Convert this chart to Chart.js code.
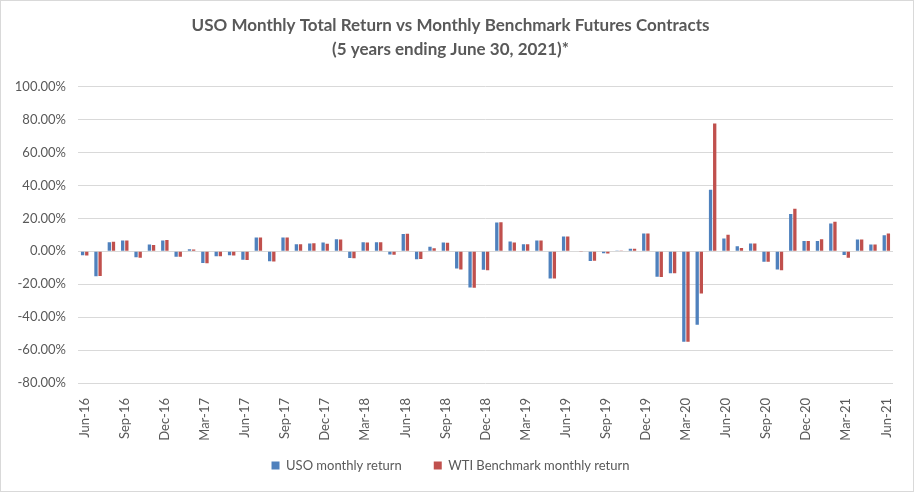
<!DOCTYPE html>
<html>
<head>
<meta charset="utf-8">
<script src="https://cdn.jsdelivr.net/npm/chart.js@4.4.0/dist/chart.umd.min.js"></script>
<style>
  html, body { margin: 0; padding: 0; background: #fff; }
  #wrap { width: 914px; height: 492px; position: relative; }
</style>
</head>
<body>
<div id="wrap"><canvas id="chart" width="914" height="492"></canvas></div>
<script>
// ── Data (monthly returns, %) ─────────────────────────────────────────

const months = [
    'Jun-16', 'Jul-16', 'Aug-16', 'Sep-16', 'Oct-16', 'Nov-16', 'Dec-16', 'Jan-17', 'Feb-17', 'Mar-17',
    'Apr-17', 'May-17', 'Jun-17', 'Jul-17', 'Aug-17', 'Sep-17', 'Oct-17', 'Nov-17', 'Dec-17', 'Jan-18',
    'Feb-18', 'Mar-18', 'Apr-18', 'May-18', 'Jun-18', 'Jul-18', 'Aug-18', 'Sep-18', 'Oct-18', 'Nov-18',
    'Dec-18', 'Jan-19', 'Feb-19', 'Mar-19', 'Apr-19', 'May-19', 'Jun-19', 'Jul-19', 'Aug-19', 'Sep-19',
    'Oct-19', 'Nov-19', 'Dec-19', 'Jan-20', 'Feb-20', 'Mar-20', 'Apr-20', 'May-20', 'Jun-20', 'Jul-20',
    'Aug-20', 'Sep-20', 'Oct-20', 'Nov-20', 'Dec-20', 'Jan-21', 'Feb-21', 'Mar-21', 'Apr-21', 'May-21',
    'Jun-21',
];

const usoReturn = [
    -2.4, -15.2, 5.5, 6.5, -3.7, 4.1, 6.5, -3.3, 1.2, -7.1,
    -3.0, -2.4, -5.1, 8.3, -6.1, 8.3, 4.3, 4.7, 5.3, 7.3,
    -4.1, 5.5, 5.5, -1.9, 10.5, -4.8, 2.8, 5.3, -10.4, -22.0,
    -11.2, 17.5, 5.9, 4.3, 6.5, -16.5, 8.9, -0.3, -5.9, -1.2,
    0.2, 1.5, 10.8, -15.4, -13.4, -54.9, -44.7, 37.4, 7.7, 3.0,
    4.7, -6.3, -11.0, 22.6, 6.3, 6.3, 16.9, -2.2, 7.1, 4.1,
    9.8,
];

const wtiReturn = [
    -2.6, -15.0, 5.8, 6.6, -3.9, 3.8, 6.8, -3.4, 1.1, -7.3,
    -3.0, -2.6, -5.3, 8.4, -6.2, 8.4, 4.3, 4.8, 4.6, 7.2,
    -4.3, 5.3, 5.5, -2.1, 10.6, -4.7, 1.8, 5.1, -11.0, -22.2,
    -11.6, 17.6, 5.3, 4.3, 6.5, -16.5, 8.9, -0.2, -5.8, -1.3,
    0.2, 1.6, 10.8, -15.6, -13.4, -54.9, -25.6, 77.6, 10.0, 2.0,
    4.7, -6.3, -11.6, 25.8, 6.3, 7.3, 17.9, -3.9, 7.1, 4.1,
    10.8,
];

const titleLines = [
    'USO Monthly Total Return vs Monthly Benchmark Futures Contracts',
    '(5 years ending June 30, 2021)*',
];

// ── Chart ─────────────────────────────────────────────────────────────

const FONT = 'Lato, "Open Sans", sans-serif';
const TEXT = '#595959';

// light frame around the whole chart, like the Excel chart border
const framePlugin = {
    id: 'frame',
    afterDraw(chart) {
        const c = chart.ctx;
        c.save();
        c.strokeStyle = '#D9D9D9';
        c.lineWidth = 1;
        c.strokeRect(0.5, 0.5, chart.width - 1, chart.height - 1);
        c.restore();
    },
};

new Chart(document.getElementById('chart'), {
    type: 'bar',
    data: {
        labels: months,
        datasets: [
            { label: 'USO monthly return', data: usoReturn, backgroundColor: '#4F81BD' },
            { label: 'WTI Benchmark monthly return', data: wtiReturn, backgroundColor: '#C0504D' },
        ],
    },
    options: {
        responsive: false,
        animation: false,
        layout: { padding: { left: 8, right: 21, top: 14, bottom: 10 } },
        datasets: { bar: { categoryPercentage: 0.62, barPercentage: 0.8 } },
        scales: {
            x: {
                grid: { display: false },
                border: { display: false },
                ticks: {
                    autoSkip: false,
                    minRotation: 90,
                    maxRotation: 90,
                    padding: 7,
                    color: TEXT,
                    font: { family: FONT, size: 13 },
                    callback: (v, i) => (i % 3 === 0 ? months[i] : ''),
                },
                afterFit: s => { s.height = 64; },
            },
            y: {
                min: -80,
                max: 100,
                grid: { color: '#D9D9D9', drawTicks: false },
                border: { display: false },
                ticks: {
                    stepSize: 20,
                    padding: 12,
                    color: TEXT,
                    font: { family: FONT, size: 13 },
                    callback: v => v.toFixed(2) + '%',
                },
                afterFit: s => { s.width = 70; },
            },
        },
        plugins: {
            title: {
                display: true,
                text: titleLines,
                color: TEXT,
                font: { family: FONT, size: 17, weight: 'bold', lineHeight: 1.4 },
                padding: { top: 0, bottom: 25 },
            },
            legend: {
                position: 'bottom',
                labels: {
                    boxWidth: 8,
                    boxHeight: 8,
                    padding: 12,
                    color: TEXT,
                    font: { family: FONT, size: 13 },
                    // a wider gap between the two entries, as in the original
                    generateLabels(chart) {
                        const items = Chart.defaults.plugins.legend.labels.generateLabels(chart);
                        if (items.length) items[0].text += '      ';
                        return items;
                    },
                },
            },
            tooltip: { enabled: false },
        },
    },
    plugins: [framePlugin],
});
</script>
</body>
</html>
